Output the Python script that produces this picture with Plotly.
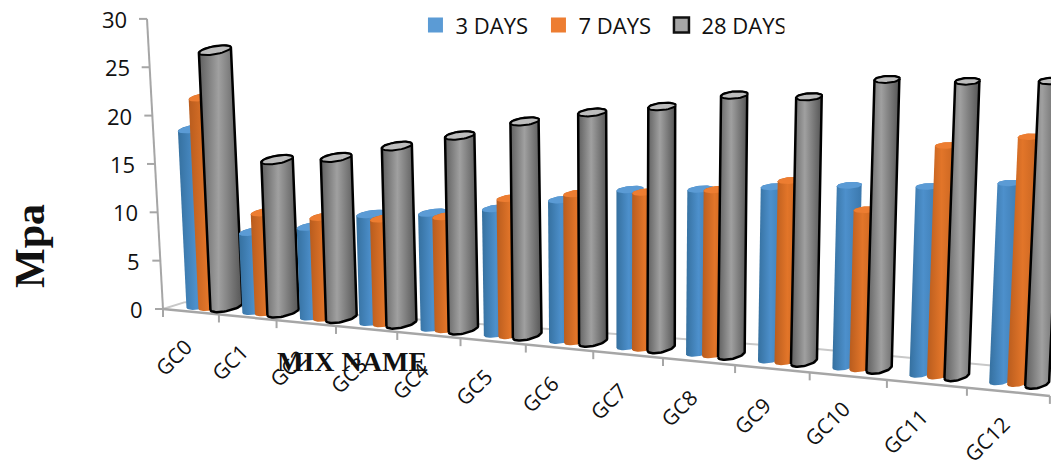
import numpy as np
import plotly.graph_objects as go

categories = ["GC0","GC1","GC2","GC3","GC4","GC5","GC6","GC7","GC8","GC9","GC10","GC11","GC12"]
days_3  = [18.9, 8.7, 9.6, 11.2, 11.7, 12.5, 13.7, 15.0, 15.4, 16.0, 16.5, 16.8, 17.5]
days_7  = [22.3, 10.8, 10.7, 10.9, 11.5, 13.6, 14.4, 14.9, 15.5, 16.7, 14.5, 20.5, 21.6]
days_28 = [27.2, 16.2, 16.7, 18.1, 19.4, 21.0, 22.1, 22.9, 24.2, 24.3, 26.1, 26.2, 26.5]
y_ticks = [0, 5, 10, 15, 20, 25, 30]
series_names = ["3 DAYS", "7 DAYS", "28 DAYS"]

PAGE_W, PAGE_H = 1051, 464
SANS = "Open Sans"
AXIS_GREY = "#a6a6a6"

# ---- oblique projection of the original 3-D view ----
def cat_x(i):
    return 163 + 251800 * i / ((67.6 - i) * 67.6)
def front_y(x):
    return 309 + 0.098 * (x - 163)
def low_y(x):
    return 311 + 0.095 * (x - 225)
def lean(x):
    return (x - 629) * 1.087e-4
def val_scale(i):
    return 9.7 + 2.0 * i / 12
def lerp(a, b, t):
    return a + (b - a) * t

STYLES = [
    dict(scale=[[0, "#35709f"], [0.45, "#4d90cc"], [1, "#3b78ad"]], cap="#5b9bd5", line=None),
    dict(scale=[[0, "#b85c1e"], [0.45, "#e27529"], [1, "#c0601f"]], cap="#ed7d31", line=None),
    dict(scale=[[0, "#5f5f5f"], [0.45, "#a0a0a0"], [1, "#555555"]], cap="#bdbdbd", line="#000000"),
]

fig = go.Figure()

# ---- floor back edge and side edge ----
bx = np.linspace(185, 1051, 12)
by = front_y(bx) - np.interp(bx, [185, 813, 1051], [9, 24, 25])
fig.add_trace(go.Scatter(x=bx, y=by, mode="lines", line=dict(color="#c8c8c8", width=2), hoverinfo="skip", showlegend=False))
fig.add_trace(go.Scatter(x=[163, 185], y=[309, by[0]], mode="lines", line=dict(color="#c8c8c8", width=2), hoverinfo="skip", showlegend=False))

# ---- value axis ----
def ax_x(v): return 163 - 16 * v / 30
def ax_y(v): return 309 - 9.67 * v
fig.add_trace(go.Scatter(x=[ax_x(0), ax_x(30)], y=[ax_y(0), ax_y(30)], mode="lines",
                         line=dict(color=AXIS_GREY, width=2), hoverinfo="skip", showlegend=False))
for v in y_ticks:
    fig.add_trace(go.Scatter(x=[ax_x(v) - 8, ax_x(v)], y=[ax_y(v), ax_y(v)], mode="lines",
                             line=dict(color=AXIS_GREY, width=2), hoverinfo="skip", showlegend=False))
    fig.add_annotation(x=ax_x(v) - 18, y=ax_y(v), xref="x", yref="y", text=str(v), showarrow=False,
                       xanchor="right", yanchor="middle", font=dict(family=SANS, size=22, color="#111111"))

# ---- category axis ----
tx = cat_x(np.arange(len(categories) + 1))
fig.add_trace(go.Scatter(x=tx, y=front_y(tx), mode="lines", line=dict(color=AXIS_GREY, width=2.5),
                         hoverinfo="skip", showlegend=False))
for xt in tx:
    fig.add_trace(go.Scatter(x=[xt, xt], y=[front_y(xt), front_y(xt) + 8], mode="lines",
                             line=dict(color=AXIS_GREY, width=2), hoverinfo="skip", showlegend=False))
for i, name in enumerate(categories):
    mid = cat_x(i + 0.5)
    t = i / 12
    fig.add_annotation(x=mid - lerp(17, 21, t), y=front_y(mid) + lerp(45, 47.5, t), xref="x", yref="y", text=name,
                       showarrow=False, textangle=-45, font=dict(family=SANS, size=21, color="#111111"))

# ---- cylinders ----
ang = np.linspace(0, np.pi, 25)
for i in range(len(categories)):
    t = i / 12
    tick, step = cat_x(i), cat_x(i + 1) - cat_x(i)
    width = lerp(32, 24, t)
    sep = lerp(12, 18, t)
    centre = tick + lerp(0.92, 0.63, t) * step
    left0 = centre - (2 * sep + width) / 2
    for k, vals in enumerate([days_3, days_7, days_28]):
        st = STYLES[k]
        xb = left0 + k * sep + width / 2
        r = width / 2
        yb = low_y(xb) - 4.5
        h = vals[i] * val_scale(i)
        xt = xb + lean(xb) * h
        yt = low_y(xb) - h + 3
        tilt_b, tilt_t = -0.2, lerp(-0.17, -0.04, t)
        mb, mt = 4.5, lerp(4.0, 3.2, t)
        cosv, sinv = np.cos(ang), np.sin(ang)
        x_lo = xb - r * cosv
        y_lo = yb + mb * sinv + tilt_b * (x_lo - xb)
        x_up = xt + r * cosv
        y_up = yt - mt * sinv + tilt_t * (x_up - xt)
        line = dict(color=st["line"], width=2.5) if st["line"] else dict(width=0)
        fig.add_trace(go.Scatter(
            x=np.r_[x_lo, x_up, x_lo[0]], y=np.r_[y_lo, y_up, y_lo[0]],
            mode="lines", fill="toself", line=line,
            fillgradient=dict(type="horizontal", colorscale=st["scale"]),
            name=series_names[k], hoverinfo="skip", showlegend=False))
        a2 = np.linspace(0, 2 * np.pi, 41)
        xc = xt + r * np.cos(a2)
        yc = yt - mt * np.sin(a2) + tilt_t * (xc - xt)
        capline = dict(color=st["line"], width=2) if st["line"] else dict(width=0)
        fig.add_trace(go.Scatter(x=xc, y=yc, mode="lines", fill="toself", fillcolor=st["cap"], line=capline,
                                 hoverinfo="skip", showlegend=False))

# ---- legend entries ----
legend_fill = ["#5b9bd5", "#ed7d31", "#a5a5a5"]
legend_line = [dict(width=0), dict(width=0), dict(color="#111111", width=2.5)]
for k in range(3):
    fig.add_trace(go.Scatter(x=[-50], y=[-50], mode="markers", name=series_names[k],
                             marker=dict(symbol="square", size=15, color=legend_fill[k], line=legend_line[k])))

# ---- axis titles ----
fig.add_annotation(x=352, y=361, xref="x", yref="y", text="<b>MIX NAME</b>", showarrow=False,
                   font=dict(family="Liberation Serif", size=28, color="#111111"))
fig.add_annotation(x=30, y=246, xref="x", yref="y", text="<b>Mpa</b>", showarrow=False, textangle=-90,
                   font=dict(family="Liberation Serif", size=42, color="#111111"))

fig.update_layout(
    width=PAGE_W, height=PAGE_H, margin=dict(l=0, r=0, t=0, b=0),
    paper_bgcolor="white", plot_bgcolor="white",
    xaxis=dict(range=[0, PAGE_W], visible=False, fixedrange=True),
    yaxis=dict(range=[PAGE_H, 0], visible=False, fixedrange=True),
    legend=dict(orientation="h", x=0.3953, y=0.991, xanchor="left", yanchor="top",
                entrywidth=78, entrywidthmode="pixels", itemsizing="trace",
                font=dict(family=SANS, size=22, color="#111111"), bgcolor="rgba(0,0,0,0)"),
    showlegend=True,
)
fig.write_html("out.html", config={"displayModeBar": False},
               post_script="document.body.style.margin='0';document.documentElement.style.overflow='hidden';")
